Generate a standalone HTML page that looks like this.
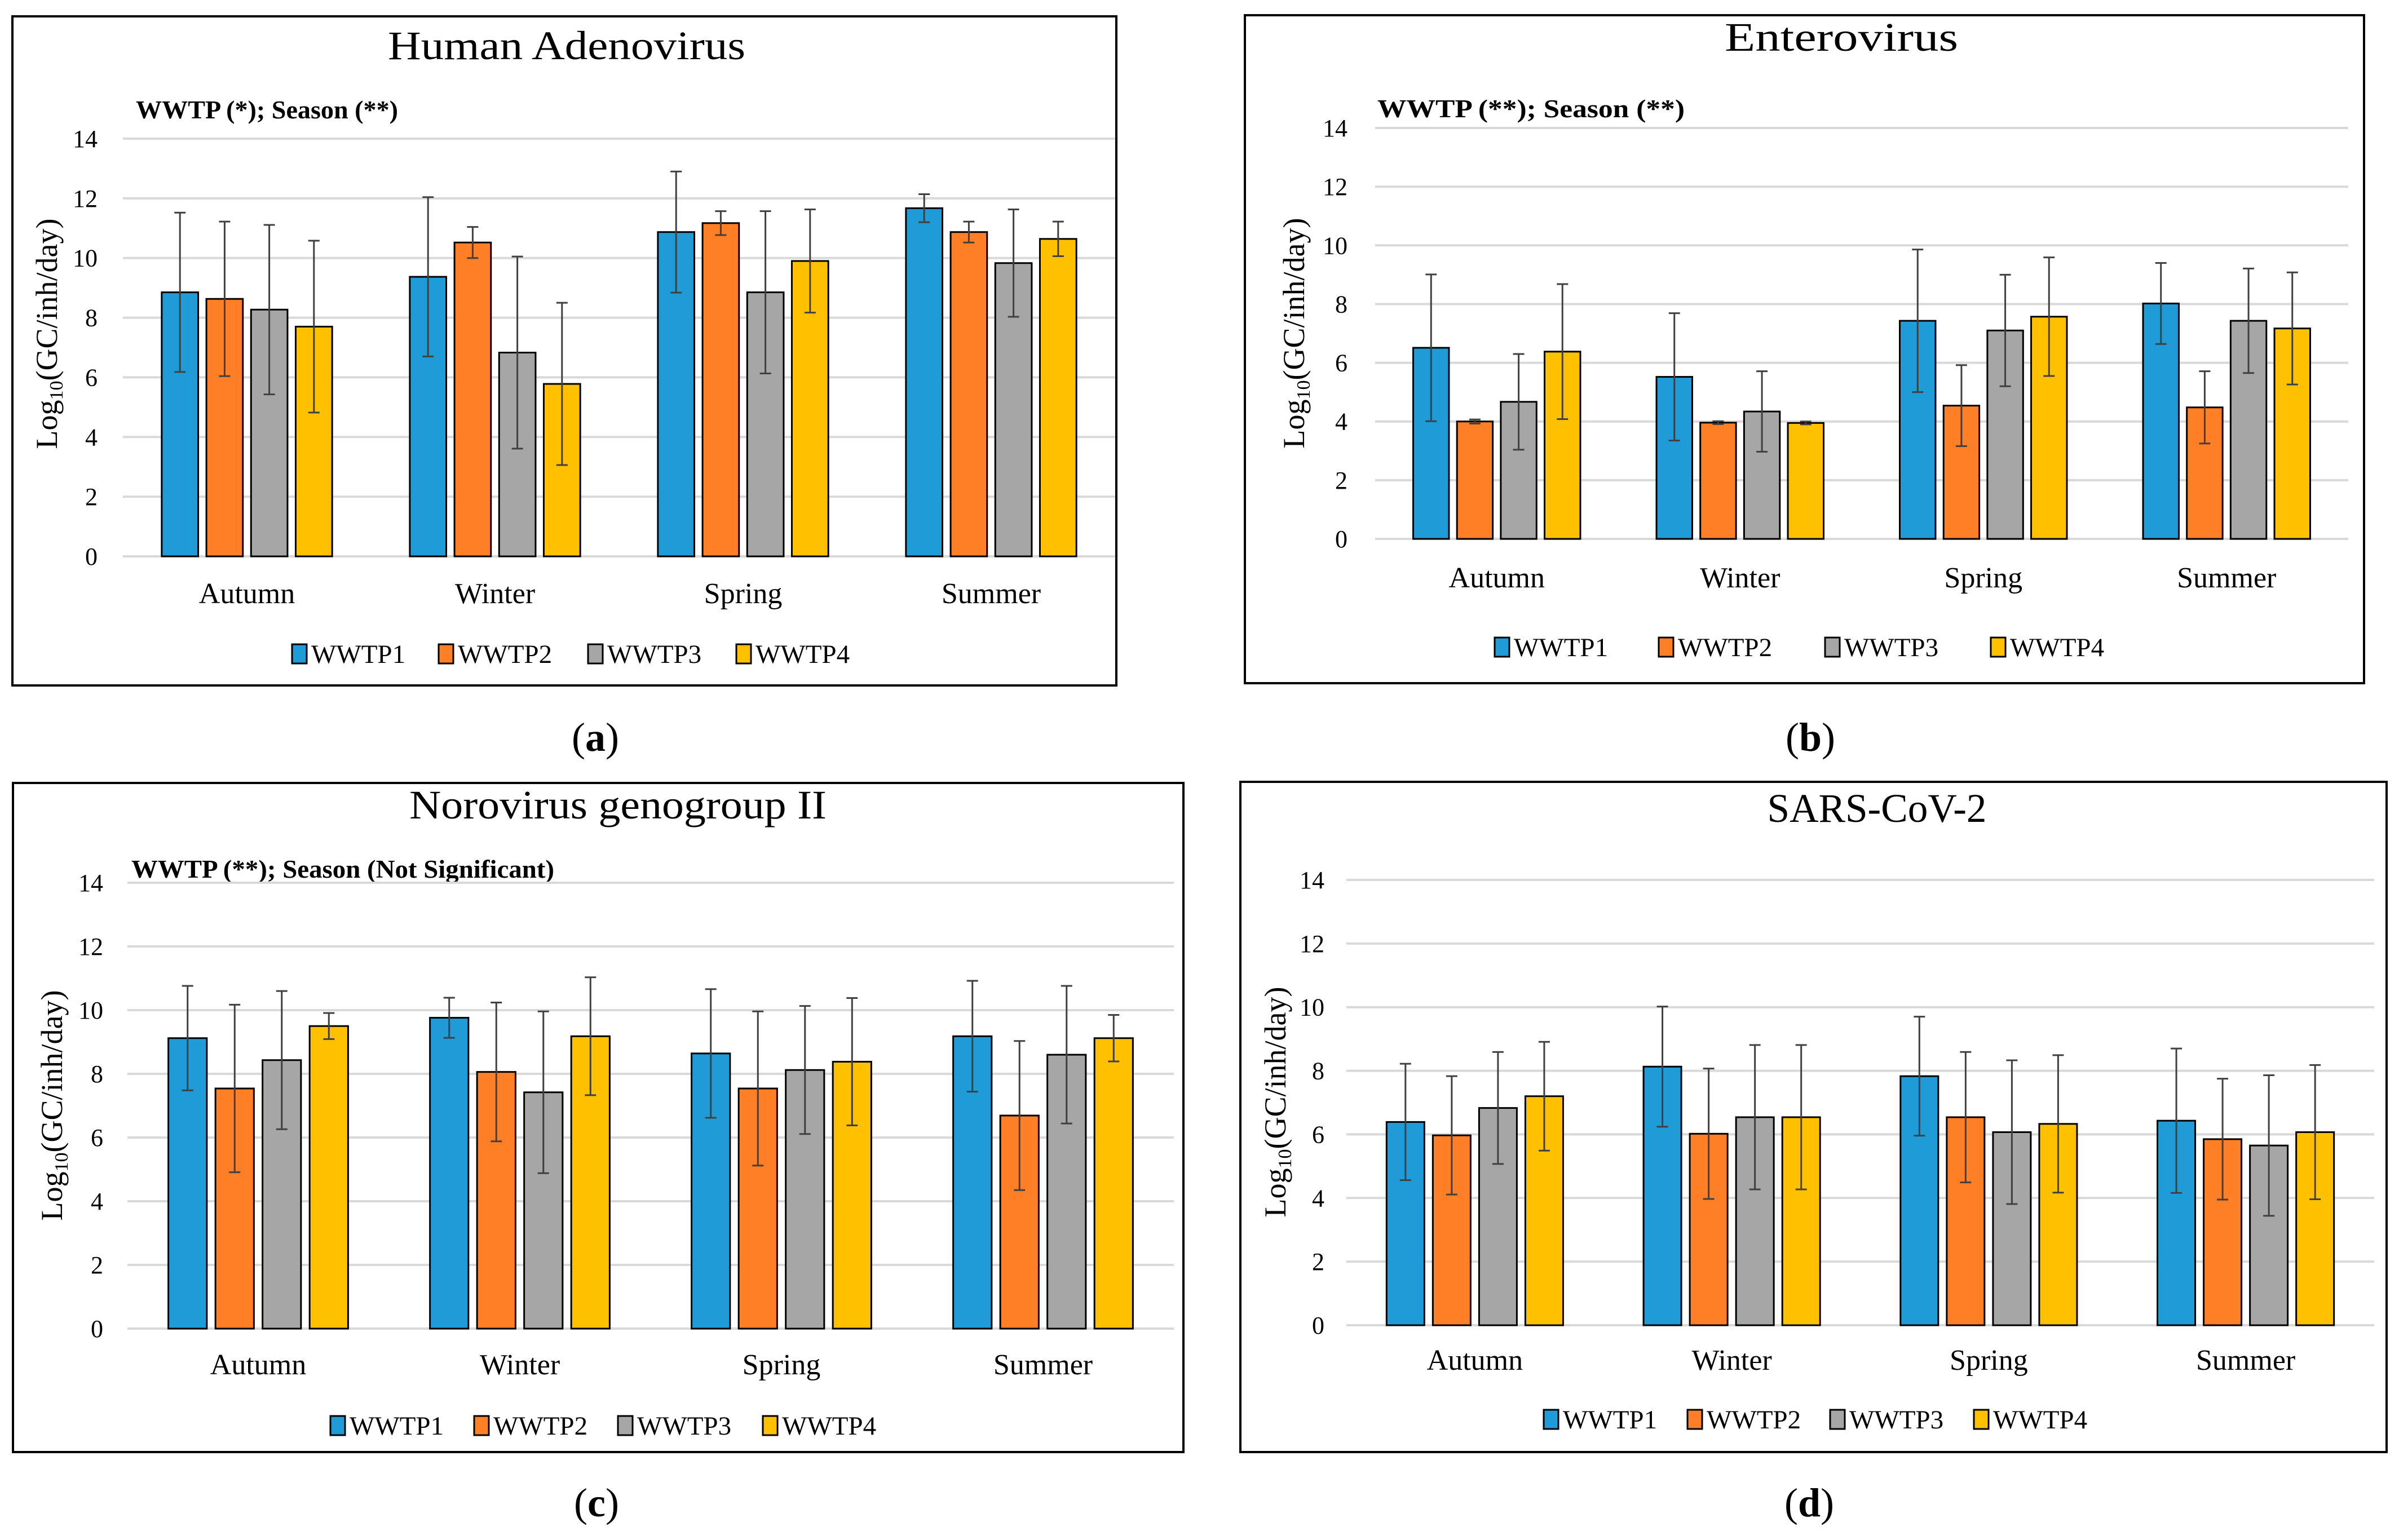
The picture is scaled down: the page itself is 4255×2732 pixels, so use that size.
<!DOCTYPE html>
<html><head><meta charset="utf-8"><style>
html,body{margin:0;padding:0;background:#fff;}
svg{display:block;font-family:"Liberation Serif",serif;}
</style></head>
<body>
<svg id="fig" width="4255" height="2732" viewBox="0 0 4255 2732" xmlns="http://www.w3.org/2000/svg"></svg>
<script>
// Shared data
const categories = ["Autumn","Winter","Spring","Summer"];
const seriesNames = ["WWTP1","WWTP2","WWTP3","WWTP4"];
const seriesColors = ["#1f9cd8","#ff7f27","#a6a6a6","#ffc000"];
const yTicks = [0,2,4,6,8,10,12,14];

// Panel a: Human Adenovirus (rows = series, cols = categories)
const adenoMeans = [[8.85,9.37,10.87,11.67],[8.63,10.52,11.17,10.87],[8.27,6.83,8.85,9.83],[7.70,5.78,9.90,10.64]];
const adenoSD = [[2.67,2.67,2.03,0.47],[2.59,0.52,0.40,0.35],[2.84,3.22,2.72,1.80],[2.88,2.72,1.73,0.58]];
// Panel b: Enterovirus
const enteroMeans = [[6.51,5.52,7.43,8.02],[4.00,3.96,4.54,4.48],[4.67,4.34,7.10,7.43],[6.38,3.95,7.57,7.17]];
const enteroSD = [[2.50,2.17,2.43,1.38],[0.07,0.05,1.38,1.23],[1.63,1.37,1.90,1.78],[2.30,0.05,2.02,1.91]];
// Panel c: Norovirus GII
const noroMeans = [[9.12,9.76,8.64,9.18],[7.54,8.06,7.54,6.69],[8.43,7.42,8.12,8.60],[9.50,9.18,8.38,9.12]];
const noroSD = [[1.64,0.63,2.02,1.74],[2.63,2.18,2.42,2.34],[2.17,2.54,2.01,2.16],[0.41,1.85,2.00,0.73]];
// Panel d: SARS-CoV-2
const sarsMeans = [[6.39,8.13,7.83,6.43],[5.97,6.02,6.54,5.85],[6.83,6.54,6.07,5.65],[7.20,6.54,6.33,6.07]];
const sarsSD = [[1.83,1.89,1.87,2.27],[1.86,2.05,2.05,1.90],[1.76,2.27,2.26,2.21],[1.71,2.27,2.16,2.11]];

const NS="http://www.w3.org/2000/svg";
const svg=document.getElementById('fig');
function mk(tag,attrs,parent){const e=document.createElementNS(NS,tag);for(const k in attrs)e.setAttribute(k,attrs[k]);(parent||svg).appendChild(e);return e;}

const panels=[
 {key:"adeno",title:"Human Adenovirus",titleLen:634,sub:"WWTP (*); Season (**)",subLen:465,means:adenoMeans,sd:adenoSD,
  box:[22,29,1958,1187],titleXY:[1005,105],subXY:[241,210],gx0:218,gx1:1978,y0:987,y14:246,tickR:173,
  catY:1070,legY:1160,legX:[518,778,1043,1306],ytX:83,ytY:592,label:"a",labXY:[1056,1332]},
 {key:"entero",title:"Enterovirus",titleLen:414,sub:"WWTP (**); Season (**)",subLen:545,means:enteroMeans,sd:enteroSD,
  box:[2208,27,1985,1185],titleXY:[3266,90],subXY:[2443,208],gx0:2439,gx1:4165,y0:956,y14:227,tickR:2390,
  catY:1042,legY:1148,legX:[2651,2942,3237,3531],ytX:2295,ytY:591,label:"b",labXY:[3211,1332]},
 {key:"noro",title:"Norovirus genogroup II",titleLen:740,sub:"WWTP (**); Season (Not Significant)",subLen:750,means:noroMeans,sd:noroSD,
  box:[23,1389,2076,1187],titleXY:[1096,1452],subXY:[233,1557],gx0:226,gx1:2082,y0:2357,y14:1566,tickR:183,
  catY:2438,legY:2529,legX:[586,841,1096,1353],ytX:92,ytY:1961,label:"c",labXY:[1058,2690]},
 {key:"sars",title:"SARS-CoV-2",titleLen:389,sub:"",subLen:0,means:sarsMeans,sd:sarsSD,
  box:[2200,1387,2033,1189],titleXY:[3329,1458],subXY:[0,0],gx0:2388,gx1:4211,y0:2351,y14:1561,tickR:2349,
  catY:2430,legY:2518,legX:[2738,2993,3246,3501],ytX:2262,ytY:1955,label:"d",labXY:[3209,2690]}
];

panels.forEach(p=>{
  const g=mk('g',{});
  
  
  const b=mk('rect',{x:p.box[0],y:p.box[1],width:p.box[2],height:p.box[3],fill:'#fff',stroke:'#000','stroke-width':4},g);
  
  
  const t=mk('text',{x:p.titleXY[0],y:p.titleXY[1],'text-anchor':'middle','font-size':72,textLength:p.titleLen,lengthAdjust:'spacingAndGlyphs'},g);
  t.textContent=p.title;
  
  
  if(p.sub){
    const s=mk('text',{x:p.subXY[0],y:p.subXY[1],'font-size':45,'font-weight':'bold',textLength:p.subLen,lengthAdjust:'spacingAndGlyphs'},g);
    s.textContent=p.sub;
    
    
  }
  const yOf=v=>p.y0+(p.y14-p.y0)*v/14;
  yTicks.forEach(v=>{
    const ln=mk('line',{x1:p.gx0,x2:p.gx1,y1:yOf(v),y2:yOf(v),stroke:'#d9d9d9','stroke-width':4},g);
    
    
    const tl=mk('text',{x:p.tickR,y:yOf(v)+15,'text-anchor':'end','font-size':44},g);
    tl.textContent=v;
    
    
  });
  const yt=mk('text',{x:0,y:0,'text-anchor':'middle','font-size':54,transform:`translate(${p.ytX+18},${p.ytY}) rotate(-90)`},g);
  
  
  yt.appendChild(document.createTextNode('Log'));
  const sb=mk('tspan',{'font-size':34,dy:10},yt); sb.textContent='10';
  const rest=mk('tspan',{dy:-10},yt); rest.textContent='(GC/inh/day)';
  const catW=(p.gx1-p.gx0)/4, barW=catW*0.147, step=catW*0.18;
  categories.forEach((c,ci)=>{
    const cx=p.gx0+catW*(ci+0.5);
    const start=cx-(3*step+barW)/2;
    seriesNames.forEach((s,si)=>{
      const v=p.means[si][ci], sd=p.sd[si][ci];
      const x=start+si*step;
      const r=mk('rect',{x:x,y:yOf(v),width:barW,height:p.y0-yOf(v),fill:seriesColors[si],stroke:'#000','stroke-width':3},g);
      
      
      const ex=x+barW/2;
      const e=mk('path',{d:`M${ex},${yOf(v+sd)}V${yOf(v-sd)}M${ex-10},${yOf(v+sd)}h20M${ex-10},${yOf(v-sd)}h20`,stroke:'#404040','stroke-width':3,fill:'none'},g);
      
      
    });
    const cl=mk('text',{x:cx,y:p.catY,'text-anchor':'middle','font-size':52},g);
    cl.textContent=c;
    
    
  });
  seriesNames.forEach((s,si)=>{
    const lg=mk('g',{},g);
    
    
    mk('rect',{x:p.legX[si],y:p.legY-17,width:26,height:34,fill:seriesColors[si],stroke:'#000','stroke-width':3},lg);
    const lt=mk('text',{x:p.legX[si]+34,y:p.legY+16,'font-size':47},lg);
    lt.textContent=s;
  });
  const lab=mk('text',{x:p.labXY[0],y:p.labXY[1],'text-anchor':'middle','font-size':72},svg);
  
  
  lab.appendChild(document.createTextNode('('));
  const bl=mk('tspan',{'font-weight':'bold'},lab); bl.textContent=p.label;
  lab.appendChild(document.createTextNode(')'));
});
</script>
</body></html>
